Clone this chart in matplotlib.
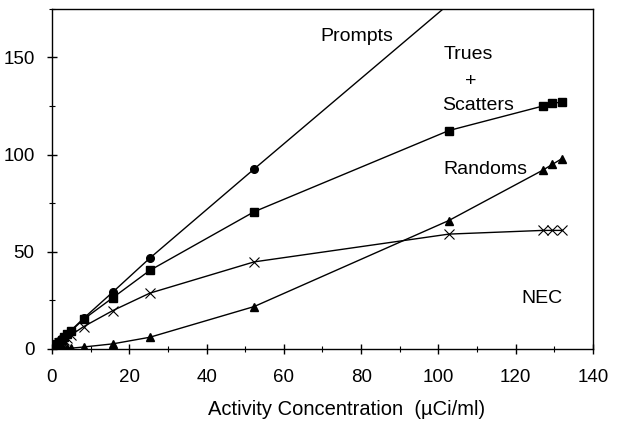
import matplotlib
matplotlib.use("Agg")
import matplotlib.pyplot as plt
from matplotlib.ticker import MultipleLocator

plt.rcParams['font.family'] = ['Liberation Sans', 'DejaVu Sans']

activity = [0.2, 0.4, 0.7, 1.0, 1.4, 1.9, 2.5, 3.2, 4.0, 4.8, 8.2, 15.7, 25.3, 52.3, 102.7, 127, 129.5, 132]
prompts = [0.39, 0.77, 1.35, 1.93, 2.7, 3.67, 4.83, 6.17, 7.7, 9.3, 15.8, 29.2, 46.7, 92.6, 177.5, 215, 219, 223]
trues = [0.38, 0.76, 1.33, 1.9, 2.65, 3.6, 4.7, 6.0, 7.5, 9.0, 15.3, 26.3, 40.4, 70.6, 112.4, 125, 126.5, 127]
randoms = [0.0, 0.0, 0.01, 0.02, 0.03, 0.05, 0.1, 0.15, 0.25, 0.35, 1.0, 2.6, 6.0, 21.8, 66.1, 92, 95, 98]
nec = [0.3, 0.6, 1.05, 1.5, 2.1, 2.8, 3.7, 4.7, 5.8, 7.0, 11.5, 19.7, 28.7, 44.8, 59.1, 61, 61, 61]

x_ticks = [0, 20, 40, 60, 80, 100, 120, 140]
y_ticks = [0, 50, 100, 150]

fig = plt.figure(figsize=(6.19, 4.25), dpi=100)
ax = fig.add_axes([0.084, 0.179, 0.874, 0.800])

lw = 1.0
ax.plot(activity, prompts, color='black', lw=lw, marker='o', ms=5.5)
ax.plot(activity, trues, color='black', lw=lw, marker='s', ms=5.5)
ax.plot(activity, randoms, color='black', lw=lw, marker='^', ms=5.5)
ax.plot(activity, nec, color='black', lw=lw, marker='x', ms=6.5, mew=0.8)

ax.set_xlim(0, 140)
ax.set_ylim(0, 175)
ax.set_xticks(x_ticks)
ax.set_yticks(y_ticks)
ax.xaxis.set_minor_locator(MultipleLocator(10))
ax.yaxis.set_minor_locator(MultipleLocator(25))
ax.tick_params(which='major', direction='inout', length=7, width=1, labelsize=13.5, colors='black')
ax.tick_params(axis='x', which='major', pad=11)
ax.tick_params(axis='y', which='major', pad=9)
ax.tick_params(which='minor', direction='inout', length=5, width=0.8)
for s in ax.spines.values():
    s.set_linewidth(1.0)

fs = 14
ax.text(69.4, 161, 'Prompts', fontsize=fs, ha='left', va='center')
ax.text(101.3, 151.5, 'Trues', fontsize=fs, ha='left', va='center')
ax.text(108.3, 137.8, '+', fontsize=fs, ha='center', va='center')
ax.text(101.0, 125.3, 'Scatters', fontsize=fs, ha='left', va='center')
ax.text(101.4, 92.3, 'Randoms', fontsize=fs, ha='left', va='center')
ax.text(126.8, 26, 'NEC', fontsize=fs, ha='center', va='center')

ax.set_xlabel('Activity Concentration  (µCi/ml)', fontsize=14.5, labelpad=10, x=0.545)

fig.savefig('out.png', dpi=100)
